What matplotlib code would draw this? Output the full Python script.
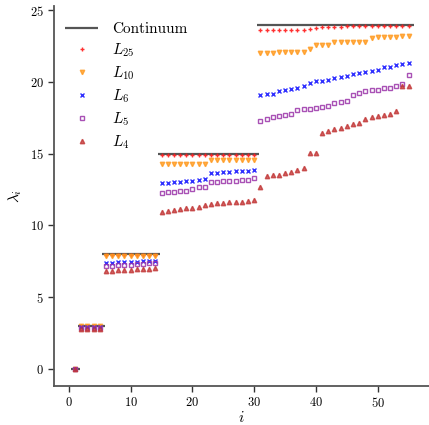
import numpy as np
import matplotlib
matplotlib.use("Agg")
import matplotlib.pyplot as plt

plt.rcParams['font.family'] = 'serif'
plt.rcParams['font.serif'] = ['cmr10']
plt.rcParams['mathtext.fontset'] = 'cm'
plt.rcParams['axes.formatter.use_mathtext'] = True

# continuum eigenvalues l(l+2) and their multiplicities (l+1)^2
levels = [0, 3, 8, 15, 24]
mult = [1, 4, 9, 16, 25]

L25 = ([0.0] + [2.99] * 4 + [7.95] * 9 + [14.93] * 16
       + [23.65] * 8 + [23.72, 23.74, 23.80, 23.80]
       + [23.85, 23.86, 23.87, 23.87, 23.88, 23.88, 23.89, 23.89, 23.90,
          23.90, 23.90, 23.91, 23.91])

L10 = ([0.0] + [2.95] * 4 + [7.85] * 9 + [14.26] * 8 + [14.58] * 8
       + [22.00, 22.03, 22.05, 22.07, 22.07, 22.07, 22.07, 22.10]
       + [22.31] + [22.56] * 3 + [22.79] * 6
       + [23.05, 23.10, 23.12, 23.14, 23.16, 23.18, 23.19])

L6 = ([0.0] + [2.90] * 4
      + [7.37, 7.39, 7.41, 7.44, 7.46, 7.47, 7.49, 7.50, 7.52]
      + [12.96, 12.98, 13.02, 13.05, 13.07, 13.09, 13.19, 13.26,
         13.65, 13.68, 13.70, 13.72, 13.77, 13.79, 13.82, 13.84]
      + [19.08, 19.14, 19.19, 19.37, 19.47, 19.51, 19.61, 19.72, 19.95,
         20.05, 20.09, 20.16, 20.28, 20.31, 20.42, 20.58, 20.65, 20.72,
         20.77, 20.82, 21.05, 21.07, 21.21, 21.28, 21.35])

L5 = ([0.0] + [2.85] * 4
      + [7.14, 7.17, 7.20, 7.23, 7.26, 7.29, 7.31, 7.34, 7.37]
      + [12.28, 12.30, 12.33, 12.37, 12.40, 12.54, 12.65, 12.70,
         13.02, 13.05, 13.07, 13.09, 13.09, 13.14, 13.16, 13.28]
      + [17.30, 17.45, 17.58, 17.61, 17.70, 17.77, 18.02, 18.09, 18.13,
         18.20, 18.25, 18.32, 18.53, 18.57, 18.64, 19.10, 19.24, 19.35,
         19.42, 19.47, 19.56, 19.58, 19.72, 19.89, 20.49])

L4 = ([0.0] + [2.80] * 4
      + [6.81, 6.84, 6.86, 6.88, 6.90, 6.93, 6.95, 6.97, 7.00]
      + [10.91, 10.98, 11.07, 11.12, 11.19, 11.23, 11.30, 11.44,
         11.51, 11.56, 11.58, 11.61, 11.63, 11.65, 11.68, 11.74]
      + [12.70, 13.44, 13.49, 13.51, 13.63, 13.72, 13.84, 13.98, 15.02,
         15.05, 16.44, 16.56, 16.70, 16.79, 16.91, 17.05, 17.16, 17.42,
         17.54, 17.63, 17.72, 17.79, 17.96, 19.70, 19.72])

series = [
    (L25, r'$L_{25}$', '+', '#ff1a1a'),
    (L10, r'$L_{10}$', 'v', '#ff9a1f'),
    (L6, r'$L_{6}$', 'x', '#1a1aff'),
    (L5, r'$L_{5}$', 's', '#9a32a8'),
    (L4, r'$L_{4}$', '^', '#c23838'),
]

idx = np.arange(1, len(L25) + 1)

fig = plt.figure(figsize=(4.29, 4.25), dpi=100)
ax = fig.add_axes([0.126, 0.092, 0.874, 0.894])

start = 1
for k, (lev, m) in enumerate(zip(levels, mult)):
    end = start + m - 1
    ax.hlines(lev, start - 0.6, end + 0.8, color='#555555', lw=1.6,
              label='Continuum' if k == 0 else None, zorder=1)
    start = end + 1

for vals, lab, mk, col in series:
    if mk == 's':
        ax.plot(idx, vals, ls='none', marker=mk, ms=3.2, mfc='none',
                mec=col, mew=1.0, alpha=0.85, label=lab, zorder=2)
    elif mk in ('+', 'x'):
        ax.plot(idx, vals, ls='none', marker=mk, ms=3.2, color=col,
                mew=1.0, alpha=0.9, label=lab, zorder=2)
    else:
        ax.plot(idx, vals, ls='none', marker=mk, ms=3.2, color=col,
                mec=col, alpha=0.8, label=lab, zorder=2)

ax.set_xlim(-2.4, 58.3)
ax.set_ylim(-1.2, 25.3)
ax.set_xticks([0, 10, 20, 30, 40, 50])
ax.set_yticks([0, 5, 10, 15, 20, 25])
ax.set_xlabel(r'$i$', fontsize=11, labelpad=0)
ax.set_ylabel(r'$\lambda_i$', fontsize=11)
ax.tick_params(labelsize=9, length=4, width=1, color='#333333')

for side in ('top', 'right'):
    ax.spines[side].set_visible(False)
for side in ('left', 'bottom'):
    ax.spines[side].set_color('#555555')
    ax.spines[side].set_linewidth(1.3)

ax.legend(loc='upper left', bbox_to_anchor=(0.0, 0.984), frameon=False,
          fontsize=11, handlelength=2.2, labelspacing=0.35,
          borderaxespad=0.3, handletextpad=0.9)

fig.savefig('out.png', dpi=100)
